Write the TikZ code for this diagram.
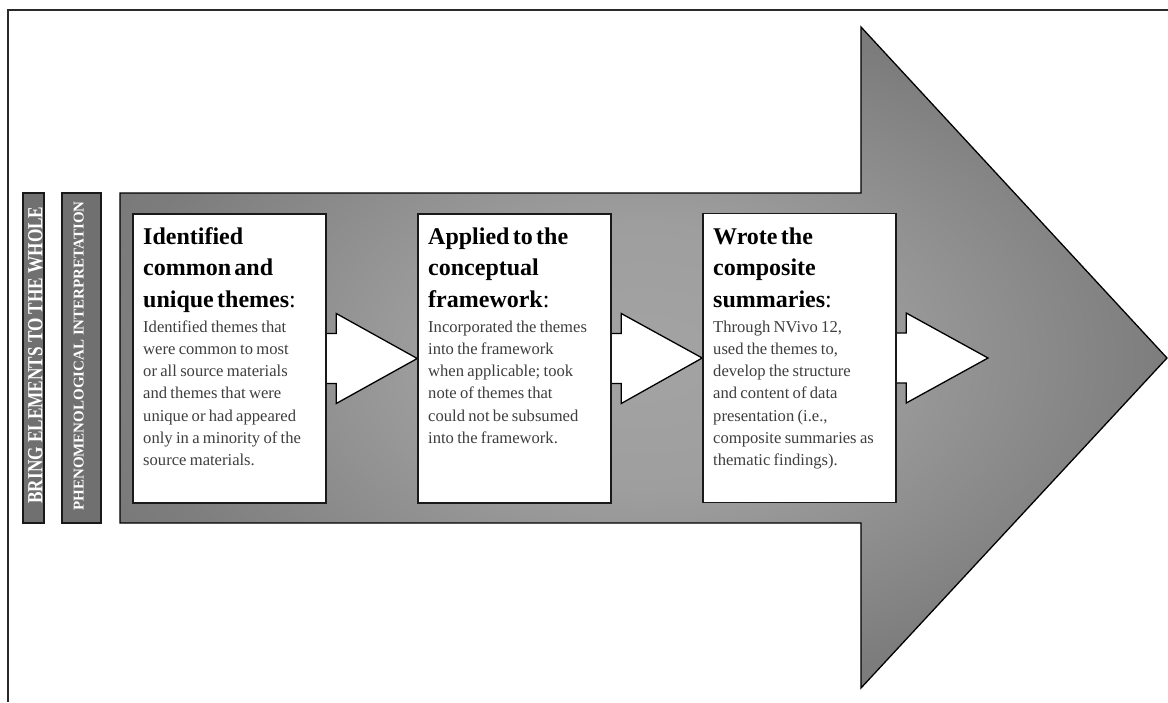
\documentclass[tikz,border=0pt]{standalone}
\usepackage{fontspec}
\setmainfont{Liberation Serif}
\usetikzlibrary{calc}

\definecolor{barfill}{HTML}{707070}
\definecolor{bodytext}{HTML}{3E3E3E}
\definecolor{framecol}{HTML}{2A2A2A}

% soft grey glow for the large arrow: light in the middle, darker toward the rim
\pgfdeclareradialshading{arrowglow}{\pgfpoint{0bp}{0bp}}{%
  color(0bp)=(black!36); color(10bp)=(black!38); color(25bp)=(black!51);
  color(38bp)=(black!57); color(50bp)=(black!57)}

\tikzset{
  bigarrow/.style={shading=arrowglow, draw=black, line width=1.3pt, line join=miter},
  phasebar/.style={draw=black!90, fill=barfill, line width=1.2pt},
  bartext/.style={text=white, font=\bfseries, rotate=90, inner sep=0pt},
  stepbox/.style={draw=black!90, fill=white, line width=1.5pt, minimum width=193pt, minimum height=289pt, inner sep=0pt},
  flowarrow/.style={draw=black, fill=white, line width=1.3pt, line join=miter},
  steptext/.style={anchor=base west, text width=200pt, inner sep=0pt, align=left},
}

\newcommand{\stephead}[1]{\fontsize{24}{31.5}\selectfont\bfseries #1\par}
\newcommand{\stepbody}[1]{\vspace{2.7pt}\fontsize{16.6}{22.3}\selectfont\mdseries\color{bodytext}#1\par}

\begin{document}
\begin{tikzpicture}[x=1pt, y=-1pt]
  \useasboundingbox (0,0) rectangle (1168,702);

  % page frame (left and top rules)
  \draw[framecol, line width=2pt] (8,702) -- (8,9.5) -- (1168,9.5);

  % the large shaded process arrow
  \shade[bigarrow] (120,193) -- (861,193) -- (861,27) -- (1167,358)
        -- (861,688) -- (861,523) -- (120,523) -- cycle;

  % vertical phase bars
  \draw[phasebar] (23,193) rectangle (44,523);
  \draw[phasebar] (62,193) rectangle (101,523);
  \node[bartext] (whole) at (35.5,355)
    {\fontsize{21.5}{22}\selectfont\scalebox{0.8}[1]{BRING ELEMENTS TO THE WHOLE}};
  \node[bartext] (interp) at (78.7,356)
    {\fontsize{15}{16}\selectfont PHENOMENOLOGICAL INTERPRETATION};

  % step boxes
  \node[stepbox] (b1) at (229.5,358.5) {};
  \node[stepbox] (b2) at (514.5,358.5) {};
  \node[stepbox] (b3) at (799.5,358) {};
  \coordinate (tip) at (988,358);

  % white connecting arrows (tails tucked under the boxes' right edges)
  \foreach \a/\b in {b1/b2, b2/b3, b3/tip} {
    \draw[flowarrow] ($(\a.east)+(-20,-25)$) -- ($(\a.east)+(9.5,-25)$)
      -- ($(\a.east)+(9.5,-45)$) -- (\b.west |- \b) -- ($(\a.east)+(9.5,45)$)
      -- ($(\a.east)+(9.5,25)$) -- ($(\a.east)+(-20,25)$) -- cycle;
  }
  % boxes again on top of the arrow tails
  \node[stepbox] at (b1) {};
  \node[stepbox] at (b2) {};
  \node[stepbox] at (b3) {};

  % box texts
  \node[steptext] (t1) at (143,244) {%
    \stephead{Identified\\common and\\unique themes\textmd{:}}%
    \stepbody{Identified themes that\\were common to most\\or all source materials\\and themes that were\\unique or had appeared\\only in a minority of the\\source materials.}};
  \node[steptext] (t2) at (428,244) {%
    \stephead{Applied to the\\conceptual\\framework\textmd{:}}%
    \stepbody{Incorporated the themes\\into the framework\\when applicable; took\\note of themes that\\could not be subsumed\\into the framework.}};
  \node[steptext] (t3) at (713,244) {%
    \stephead{Wrote the\\composite\\summaries\textmd{:}}%
    \stepbody{Through NVivo 12,\\used the themes to,\\develop the structure\\and content of data\\presentation (i.e.,\\composite summaries as\\thematic findings).}};
\end{tikzpicture}
\end{document}
